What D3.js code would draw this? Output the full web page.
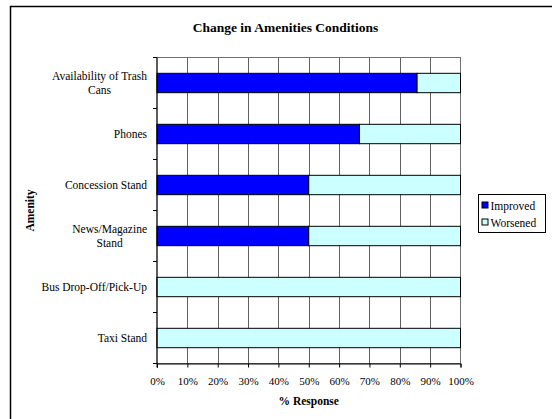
<!DOCTYPE html>
<html>
<head>
<meta charset="utf-8">
<script src="https://cdn.jsdelivr.net/npm/d3@7"></script>
<style>
  html, body { margin: 0; padding: 0; background: #fff; }
  svg { display: block; font-family: "Liberation Serif", "Times New Roman", serif; }
</style>
</head>
<body>
<svg id="chart" width="552" height="419"></svg>
<script>
// Amenity categories (top to bottom); "\n" marks a wrapped label line
const categories = [
  "Availability of Trash\nCans",
  "Phones",
  "Concession Stand",
  "News/Magazine\nStand",
  "Bus Drop-Off/Pick-Up",
  "Taxi Stand"
];
// Share of responses, in percent
const improved = [85.7, 66.7, 50, 50, 0, 0];
const worsened = [14.3, 33.3, 50, 50, 100, 100];
const seriesNames = ["Improved", "Worsened"];
const seriesColors = ["#0000ff", "#ccffff"];
const xTicks = [0, 10, 20, 30, 40, 50, 60, 70, 80, 90, 100];

const svg = d3.select("#chart");

// chart frame
svg.append("rect")
  .attr("x", 10.5).attr("y", 6.5)
  .attr("width", 560).attr("height", 430)
  .attr("fill", "#fff").attr("stroke", "#000").attr("stroke-width", 1.5);

const plot = { left: 157, right: 460.5, top: 57.5, bottom: 363.5 };

const x = d3.scaleLinear().domain([0, 100]).range([plot.left, plot.right]);
const y = d3.scaleBand()
  .domain(categories)
  .range([plot.top, plot.bottom])
  .paddingInner(0.62)
  .paddingOuter(0.31);
const slot = d3.scaleBand().domain(categories).range([plot.top, plot.bottom]).padding(0);

// plot area background and border
svg.append("rect")
  .attr("x", plot.left).attr("y", plot.top)
  .attr("width", plot.right - plot.left).attr("height", plot.bottom - plot.top)
  .attr("fill", "#fff").attr("stroke", "#707070").attr("stroke-width", 1);

// vertical gridlines
svg.append("g").attr("class", "grid")
  .selectAll("line")
  .data(xTicks.slice(1, -1))
  .join("line")
  .attr("x1", d => Math.round(x(d)) + 0.5)
  .attr("x2", d => Math.round(x(d)) + 0.5)
  .attr("y1", plot.top)
  .attr("y2", plot.bottom)
  .attr("stroke", "#606060")
  .attr("stroke-width", 1);

// stacked bars
const stack = categories.map((c, i) => ({ c, parts: [[0, improved[i]], [improved[i], improved[i] + worsened[i]]] }));
const rows = svg.append("g").selectAll("g").data(stack).join("g");
rows.selectAll("rect")
  .data(d => d.parts.map((p, k) => ({ c: d.c, p, k })).filter(e => e.p[1] > e.p[0]))
  .join("rect")
  .attr("x", d => x(d.p[0]))
  .attr("y", d => y(d.c))
  .attr("width", d => x(d.p[1]) - x(d.p[0]))
  .attr("height", y.bandwidth())
  .attr("fill", d => seriesColors[d.k])
  .attr("stroke", "#000").attr("stroke-width", 1);

// x axis
const xAxis = d3.axisBottom(x).tickValues(xTicks).tickFormat(d => d + "%").tickSize(4).tickPadding(10);
const gx = svg.append("g").attr("transform", `translate(0,${plot.bottom})`).call(xAxis);
gx.select(".domain").attr("stroke", "#000");
gx.selectAll(".tick line").attr("stroke", "#000");
gx.selectAll("text").attr("font-size", "11px").attr("font-family", "Liberation Serif").attr("fill", "#000");

// y axis line and ticks at category boundaries
svg.append("line")
  .attr("x1", plot.left).attr("x2", plot.left)
  .attr("y1", plot.top).attr("y2", plot.bottom + 4)
  .attr("stroke", "#000");
const bounds = categories.map(c => slot(c)).concat([plot.bottom]);
svg.append("g").selectAll("line").data(bounds).join("line")
  .attr("x1", plot.left - 4).attr("x2", plot.left)
  .attr("y1", d => d).attr("y2", d => d)
  .attr("stroke", "#000");

// category labels
const lineH = 13.5;
const labels = svg.append("g").attr("font-size", "11.5px").attr("fill", "#000");
categories.forEach(c => {
  const lines = c.split("\n");
  const cy = slot(c) + slot.bandwidth() / 2;
  const t = labels.append("text").attr("text-anchor", "middle");
  lines.forEach((ln, i) => {
    t.append("tspan").attr("y", cy + 4 + (i - (lines.length - 1) / 2) * lineH).text(ln);
  });
  const w = t.select("tspan").node().getComputedTextLength();
  t.selectAll("tspan").attr("x", plot.left - 10 - w / 2);
});

// axis titles
svg.append("text")
  .attr("x", (plot.left + plot.right) / 2).attr("y", 405)
  .attr("text-anchor", "middle").attr("font-size", "11.5px").attr("font-weight", "bold")
  .text("% Response");
svg.append("text")
  .attr("transform", `translate(34,${(plot.top + plot.bottom) / 2}) rotate(-90)`)
  .attr("text-anchor", "middle").attr("font-size", "11.5px").attr("font-weight", "bold")
  .text("Amenity");

// title
svg.append("text")
  .attr("x", 285.5).attr("y", 32)
  .attr("text-anchor", "middle").attr("font-size", "13.5px").attr("font-weight", "bold")
  .text("Change in Amenities Conditions");

// legend
const lg = svg.append("g").attr("transform", "translate(478.5,194.5)");
lg.append("rect").attr("width", 67).attr("height", 38)
  .attr("fill", "#fff").attr("stroke", "#000").attr("stroke-width", 1);
seriesNames.forEach((n, i) => {
  const yy = 11 + i * 17;
  lg.append("rect").attr("x", 3.5).attr("y", yy - 3.5).attr("width", 6).attr("height", 6)
    .attr("fill", seriesColors[i]).attr("stroke", "#000").attr("stroke-width", 1);
  lg.append("text").attr("x", 12).attr("y", yy + 4)
    .attr("font-size", "11.5px").text(n);
});
</script>
</body>
</html>
